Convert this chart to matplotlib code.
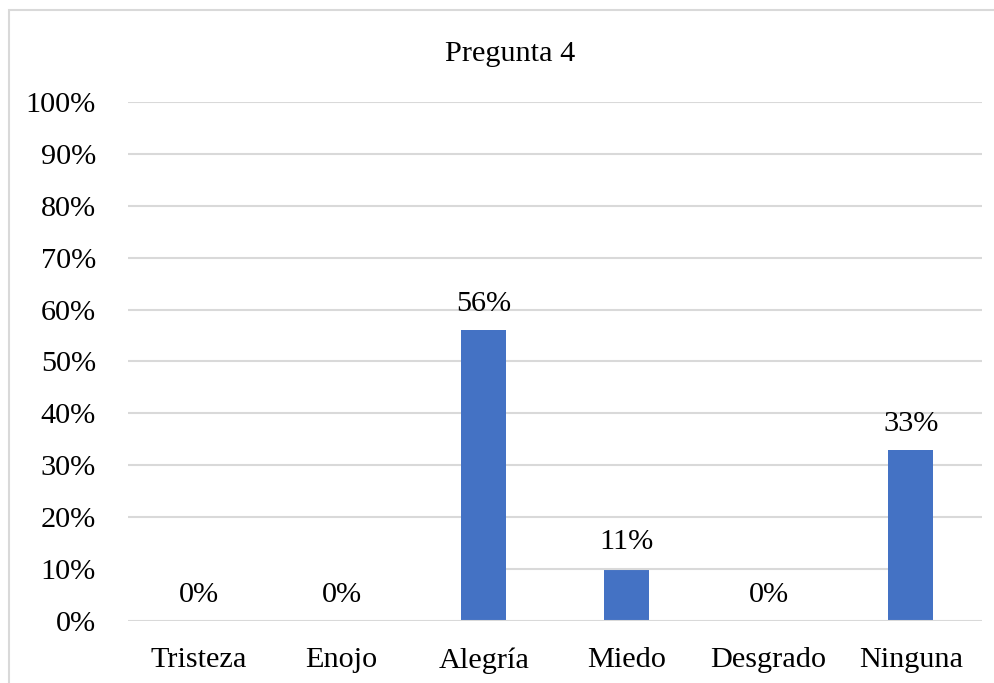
import numpy as np
from matplotlib import pyplot as plt
from matplotlib.patches import Rectangle

categorias = ['Tristeza', 'Enojo', 'Alegría', 'Miedo', 'Desgrado', 'Ninguna']
valores = [0, 0, 56, 10.2, 0, 33]
etiquetas = ['0%', '0%', '56%', '11%', '0%', '33%']
ticks_y = [0, 10, 20, 30, 40, 50, 60, 70, 80, 90, 100]

plt.rcParams['font.family'] = ['Liberation Serif', 'DejaVu Serif']

fig = plt.figure(figsize=(9.95, 6.83), dpi=100)
ax = fig.add_axes([0.1286, 0.0908, 0.8584, 0.7599])

# chart border
fig.patches.append(Rectangle((9 / 995, -0.05), 1.0, 1.05 - 10 / 683,
                             transform=fig.transFigure, fill=False,
                             edgecolor='#d9d9d9', lw=1.5))

x = np.arange(len(categorias))
ancho = 0.316
gris = '#d9d9d9'
fs = 21.8

for v in ticks_y[2:]:
    ax.axhline(v, color=gris, lw=1.5, zorder=0)
ax.axhline(0, color=gris, lw=1.5, zorder=3)

ax.bar(x, valores, width=ancho, color='#4472c4', zorder=2)
# stray 10% gridline segment
ax.hlines(10, x[2] + ancho / 2, x[5] - ancho / 2, color=gris, lw=1.5, zorder=3)

for xi, v, t in zip(x, valores, etiquetas):
    ax.text(xi, v + 5, t, ha='center', va='center', fontsize=fs)

ax.set_xlim(-0.5, 5.5)
ax.set_ylim(0, 100)
ax.set_yticks(ticks_y)
ax.set_yticklabels([f'{v}%' for v in ticks_y])
ax.set_xticks(x)
ax.set_xticklabels(categorias)
ax.tick_params(axis='y', length=0, pad=23, labelsize=fs)
ax.tick_params(axis='x', length=0, pad=19, labelsize=fs)
for s in ax.spines.values():
    s.set_visible(False)

fig.text(510 / 995, 1 - 54 / 683, 'Pregunta 4', ha='center', va='center', fontsize=fs)

fig.savefig('out.png', dpi=100)
